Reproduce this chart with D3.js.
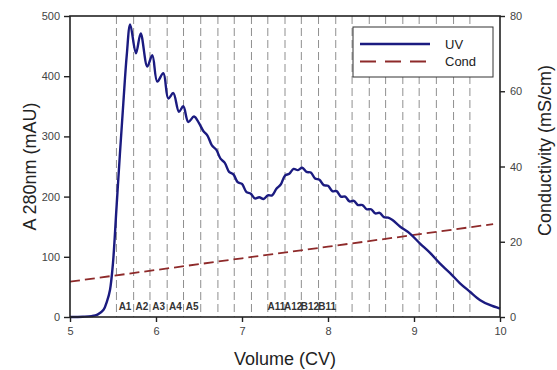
<!DOCTYPE html>
<html>
<head>
<meta charset="utf-8">
<script src="https://cdn.jsdelivr.net/npm/d3@7"></script>
<style>
body { margin: 0; background: #fff; }
svg { font-family: 'Liberation Sans', Arial, sans-serif; }
.tick text { fill: #444; font-size: 11px; }
.domain, .tick line { stroke: #222; }
</style>
</head>
<body>
<div id="chart"></div>
<script>
'use strict';

// UV absorbance trace, volume (CV) / mAU
let uvVolume = [
	5.00, 5.15, 5.25, 5.32, 5.39, 5.43, 5.465, 5.50, 5.54, 5.58, 5.62, 5.66, 5.70,
	5.767, 5.822, 5.899, 5.957, 6.015, 6.085, 6.143, 6.201, 6.267, 6.317, 6.376, 6.442,
	6.50, 6.55, 6.60, 6.65, 6.70, 6.75, 6.80, 6.85, 6.90, 6.95, 7.00, 7.05, 7.10, 7.15,
	7.20, 7.25, 7.30, 7.35, 7.40, 7.45, 7.50, 7.55, 7.60, 7.65, 7.70, 7.75, 7.80, 7.85,
	7.90, 7.95, 8.00, 8.05, 8.10, 8.15, 8.20, 8.25, 8.30, 8.35, 8.40, 8.45, 8.50, 8.55,
	8.60, 8.65, 8.70, 8.75, 8.84, 8.95, 9.07, 9.19, 9.30, 9.42, 9.535, 9.65, 9.77, 9.88, 10.0,
];
let uvValue = [
	0, 0.5, 1.5, 4, 12, 26, 45, 90, 180, 270, 355, 435, 486,
	438, 471, 416, 435, 391, 405, 363, 372, 341, 350, 324, 333,
	322, 309, 301, 285, 278, 263, 256, 241, 237, 224, 221, 208, 205, 197,
	199, 196, 202, 202, 213, 220, 235, 238, 246, 244, 248, 241, 240, 230,
	228, 219, 218, 209, 209, 200, 200, 192, 193, 186, 186, 179, 179, 172,
	173, 166, 165, 161, 150, 139, 122, 106, 89, 73, 56, 42, 28, 20, 14,
];

// conductivity, volume (CV) / mS/cm
let condVolume = [5.0, 6.0, 7.0, 8.0, 9.0, 9.92];
let condValue = [9.4, 12.5, 15.6, 18.7, 21.8, 24.7];

// fraction collection marks
let fractionCuts = [5.54, 5.74, 5.93, 6.13, 6.32, 6.52, 6.72, 6.91, 7.11, 7.30, 7.50,
	7.69, 7.89, 8.09, 8.28, 8.48, 8.67, 8.87, 9.06, 9.26, 9.46, 9.65];
let fractionNames = ['A1', 'A2', 'A3', 'A4', 'A5', '', '', '', '', 'A11', 'A12', 'B12', 'B11'];

let xTicks = [5, 6, 7, 8, 9, 10];
let yTicks = [0, 100, 200, 300, 400, 500];
let y2Ticks = [0, 20, 40, 60, 80];

let W = 557, H = 370;
let m = {l: 70, r: 57, t: 16, b: 53};

let svg = d3.select('#chart')
	.append('svg')
		.attr('width', W)
		.attr('height', H)
	;

let x = d3.scaleLinear().domain([5, 10]).range([m.l, W - m.r]);
let y = d3.scaleLinear().domain([0, 500]).range([H - m.b, m.t]);
let y2 = d3.scaleLinear().domain([0, 80]).range([H - m.b, m.t]);

// fraction lines
svg.append('g')
	.selectAll('line')
	.data(fractionCuts)
	.join('line')
		.attr('x1', d => x(d))
		.attr('x2', d => x(d))
		.attr('y1', m.t)
		.attr('y2', H - m.b)
		.attr('stroke', '#8f8f8f')
		.attr('stroke-width', 1)
		.attr('stroke-dasharray', '8,4')
	;

svg.append('g')
	.selectAll('text')
	.data(fractionNames)
	.join('text')
		.attr('x', (d, i) => (x(fractionCuts[i]) + x(fractionCuts[i + 1])) / 2)
		.attr('y', H - m.b - 7)
		.attr('text-anchor', 'middle')
		.attr('font-size', 10)
		.attr('font-weight', 'bold')
		.attr('fill', '#333')
		.text(d => d)
	;

// conductivity
let condLine = d3.line()
	.x((d, i) => x(condVolume[i]))
	.y(d => y2(d));
svg.append('path')
	.attr('d', condLine(condValue))
	.attr('fill', 'none')
	.attr('stroke', '#8e2a2a')
	.attr('stroke-width', 1.8)
	.attr('stroke-dasharray', '10,5')
	;

// UV
let uvLine = d3.line()
	.x((d, i) => x(uvVolume[i]))
	.y(d => y(d))
	.curve(d3.curveCatmullRom.alpha(0.5));
svg.append('path')
	.attr('d', uvLine(uvValue))
	.attr('fill', 'none')
	.attr('stroke', '#1b1b80')
	.attr('stroke-width', 2.4)
	.attr('stroke-linejoin', 'round')
	;

// frame + axes
svg.append('rect')
	.attr('x', m.l)
	.attr('y', m.t)
	.attr('width', W - m.r - m.l)
	.attr('height', H - m.b - m.t)
	.attr('fill', 'none')
	.attr('stroke', '#222')
	.attr('stroke-width', 1.6)
	;

let gx = svg.append('g')
	.attr('transform', `translate(0,${H - m.b})`)
	.call(d3.axisBottom(x).tickValues(xTicks).tickSize(5).tickPadding(5).tickFormat(d3.format('d')));
let gy = svg.append('g')
	.attr('transform', `translate(${m.l},0)`)
	.call(d3.axisLeft(y).tickValues(yTicks).tickSize(6).tickPadding(4));
let gy2 = svg.append('g')
	.attr('transform', `translate(${W - m.r},0)`)
	.call(d3.axisRight(y2).tickValues(y2Ticks).tickSize(5).tickPadding(5));
for (let g of [gx, gy, gy2]) {
	g.select('.domain').remove();
	g.selectAll('.tick line').attr('stroke-width', 1.4);
}

// titles
svg.append('text')
	.attr('x', (m.l + W - m.r) / 2)
	.attr('y', H - 5)
	.attr('text-anchor', 'middle')
	.attr('font-size', 18)
	.attr('fill', '#222')
	.text('Volume (CV)')
	;
svg.append('text')
	.attr('transform', `translate(36,${(m.t + H - m.b) / 2}) rotate(-90)`)
	.attr('text-anchor', 'middle')
	.attr('font-size', 18)
	.attr('fill', '#222')
	.text('A 280nm (mAU)')
	;
svg.append('text')
	.attr('transform', `translate(551,${(m.t + H - m.b) / 2 - 16}) rotate(-90)`)
	.attr('text-anchor', 'middle')
	.attr('font-size', 18)
	.attr('fill', '#222')
	.text('Conductivity (mS/cm)')
	;

// legend
let lg = svg.append('g').attr('transform', 'translate(353,27)');
lg.append('rect')
	.attr('width', 140)
	.attr('height', 50)
	.attr('fill', '#fff')
	.attr('stroke', '#333')
	.attr('stroke-width', 1)
	;
lg.append('line')
	.attr('x1', 7).attr('x2', 77).attr('y1', 17).attr('y2', 17)
	.attr('stroke', '#1b1b80').attr('stroke-width', 2.4)
	;
lg.append('line')
	.attr('x1', 7).attr('x2', 77).attr('y1', 34.5).attr('y2', 34.5)
	.attr('stroke', '#8e2a2a').attr('stroke-width', 1.8).attr('stroke-dasharray', '16,9')
	;
lg.append('text').attr('x', 92).attr('y', 21.5).attr('font-size', 13).attr('fill', '#222').text('UV');
lg.append('text').attr('x', 92).attr('y', 39).attr('font-size', 13).attr('fill', '#222').text('Cond');
</script>
</body>
</html>
